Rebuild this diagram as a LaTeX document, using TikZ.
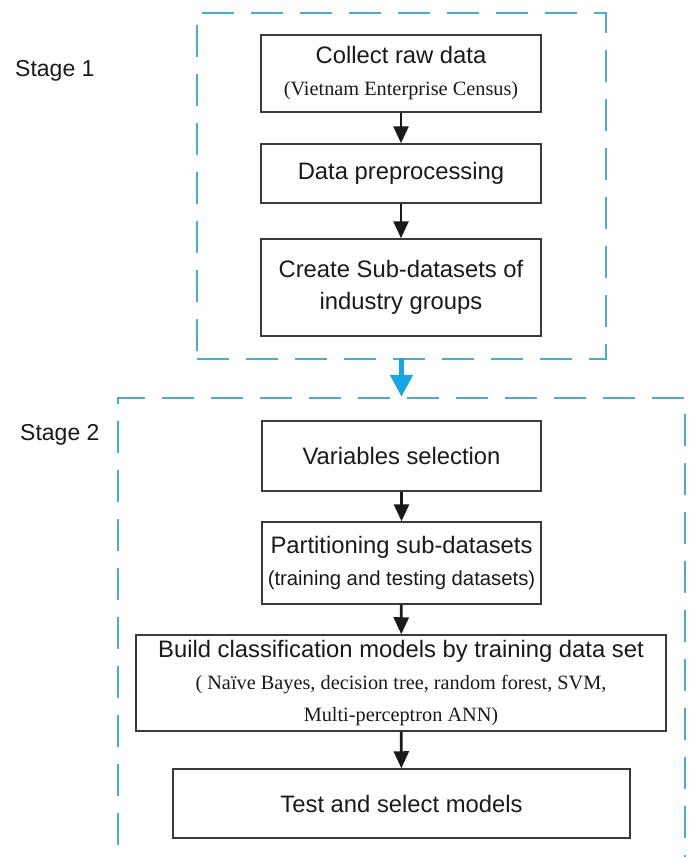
\documentclass[tikz,border=0pt]{standalone}
\usepackage{fontspec}
\setmainfont{Liberation Sans}
\newfontfamily\timesfont{Liberation Serif}
\usetikzlibrary{arrows.meta,positioning}
\definecolor{ink}{HTML}{1A1A1A}
\definecolor{boxline}{HTML}{3A3A3A}
\definecolor{stagedash}{HTML}{4BACC6}
\definecolor{stageblue}{HTML}{1AA7E0}
\newcommand{\mainsize}{\fontsize{23.8}{32}\selectfont}
\newcommand{\subsize}{\fontsize{20.3}{31}\selectfont}
\tikzset{
  flowbox/.style={draw=boxline,fill=white,line width=1.5pt,
                  inner sep=0pt,align=center,text=ink,font=\mainsize},
  stagebox/.style={draw=stagedash,line width=2.5pt,
                   dash pattern=on 32pt off 17pt,inner sep=0pt},
  stagelabel/.style={inner sep=0pt,text=ink,font=\fontsize{23}{28}\selectfont},
  flowarr/.style={-{Triangle[length=17pt,width=15pt]},line width=2.7pt,draw=ink},
  stagearr/.style={-{Triangle[length=22pt,width=22pt]},line width=5pt,draw=stageblue}
}
\begin{document}
\begin{tikzpicture}[x=1pt,y=-1pt]
  \useasboundingbox[fill=white] (0,0) rectangle (689,857);

  % stage frames
  \node[stagebox,minimum width=409pt,minimum height=346pt] (s1) at (401.5,186) {};
  \node[stagebox,minimum width=567pt,minimum height=460.5pt] (s2) at (401.5,628.25) {};
  \node[stagelabel,anchor=base west] (l1) at (15,76) {Stage 1};
  \node[stagelabel,anchor=base west] (l2) at (20,440) {Stage 2};

  % stage 1
  \node[flowbox,minimum width=280pt,minimum height=77pt] (raw) at (401,73.5)
    {Collect raw data\\{\timesfont\subsize (Vietnam Enterprise Census)}};
  \node[flowbox,minimum width=280pt,minimum height=59pt] (prep) at (401,173.5)
    {Data preprocessing};
  \node[flowbox,minimum width=280pt,minimum height=97pt] (sub) at (401,287.5)
    {Create Sub-datasets of\\industry groups};

  % stage 2
  \node[flowbox,minimum width=279pt,minimum height=70pt] (var) at (401.5,456)
    {Variables selection};
  \node[flowbox,minimum width=279pt,minimum height=82pt] (part) at (401.5,563)
    {Partitioning sub-datasets\\{\subsize (training and testing datasets)}};
  \node[flowbox,minimum width=530pt,minimum height=96pt] (build) at (401,683)
    {Build classification models by training data set\\
     {\timesfont\subsize ( Na\"ive Bayes, decision tree, random forest, SVM,}\\
     {\timesfont\subsize Multi-perceptron ANN)}};
  \node[flowbox,minimum width=457pt,minimum height=69pt] (test) at (401.5,803.5)
    {Test and select models};

  \draw[flowarr] (raw) -- (prep);
  \draw[flowarr] (prep) -- (sub);
  \draw[flowarr] (var) -- (part);
  \draw[flowarr] (part) -- (build);
  \draw[flowarr] (build) -- (test);
  \draw[stagearr] ([yshift=2pt]s1.south) -- (s2.north);
\end{tikzpicture}
\end{document}
